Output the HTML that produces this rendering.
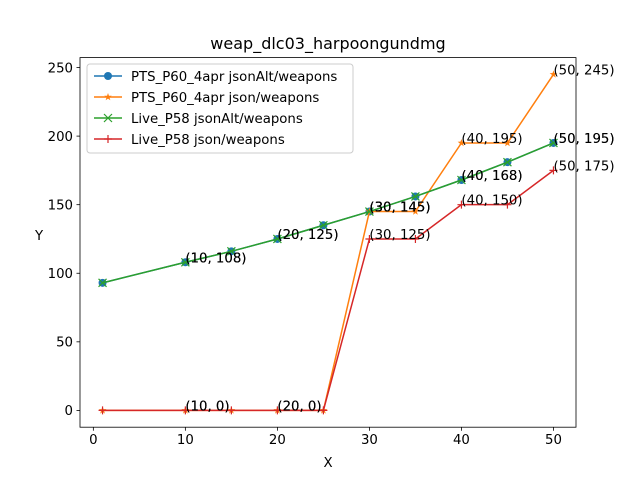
<!DOCTYPE html>
<html><head><meta charset="utf-8"><style>
body{margin:0;background:#fff}
svg{font-family:"DejaVu Sans","Liberation Sans",sans-serif}
</style></head><body>
<svg id="chart" width="640" height="480" xmlns="http://www.w3.org/2000/svg">
<rect width="640" height="480" fill="#fff"/>
<text x="328" y="49" text-anchor="middle" font-size="16">weap_dlc03_harpoongundmg</text>
<text x="328" y="467" text-anchor="middle" font-size="13.3">X</text>
<text x="39" y="240" text-anchor="middle" font-size="13.3">Y</text>
<g id="grid"></g><g id="series"></g><g id="ann"></g>
<rect x="80" y="57.6" width="496" height="369.6" fill="none" stroke="#000" stroke-width="0.8"/>
<g id="legend"></g>
</svg>
<script>
const xs = [1,10,15,20,25,30,35,40,45,50];
const ptsAlt = [93,108,116,125,135,145,156,168,181,195];
const ptsJson = [0,0,0,0,0,145,145,195,195,245];
const liveAlt = [93,108,116,125,135,145,156,168,181,195];
const liveJson = [0,0,0,0,0,125,125,150,150,175];
const seriesNames = ["PTS_P60_4apr jsonAlt/weapons","PTS_P60_4apr json/weapons","Live_P58 jsonAlt/weapons","Live_P58 json/weapons"];
const xTicks = [0,10,20,30,40,50];
const yTicks = [0,50,100,150,200,250];
const annX = [10,20,30,40,50];

const NS="http://www.w3.org/2000/svg";
const L=80,R=576,T=57.6,B=427.2,xmin=-1.45,xmax=52.45,ymin=-12.25,ymax=257.25;
const sx=v=>L+(v-xmin)/(xmax-xmin)*(R-L);
const sy=v=>B-(v-ymin)/(ymax-ymin)*(B-T);
function mk(tag,attrs,parent,text){const e=document.createElementNS(NS,tag);for(const k in attrs)e.setAttribute(k,attrs[k]);if(text!==undefined)e.textContent=text;parent.appendChild(e);return e;}
const grid=document.getElementById('grid');
xTicks.forEach(t=>{
  const l=mk('line',{x1:sx(t),x2:sx(t),y1:B,y2:B+3.5,stroke:'#000','stroke-width':0.8},grid);
  
  
  const tx=mk('text',{x:sx(t),y:B+17,'text-anchor':'middle','font-size':13.3},grid,String(t));
  
  
});
yTicks.forEach(t=>{
  const l=mk('line',{x1:L-3.5,x2:L,y1:sy(t),y2:sy(t),stroke:'#000','stroke-width':0.8},grid);
  
  
  const tx=mk('text',{x:L-7,y:sy(t)+4.8,'text-anchor':'end','font-size':13.3},grid,String(t));
  
  
});
const colors=['#1f77b4','#ff7f0e','#2ca02c','#d62728'];
const markers=['o','*','x','+'];
const data=[ptsAlt,ptsJson,liveAlt,liveJson];
function marker(g,type,x,y,c){
  if(type==='o') return mk('circle',{cx:x,cy:y,r:4,fill:c},g);
  if(type==='x') return mk('path',{d:`M${x-4},${y-4}L${x+4},${y+4}M${x-4},${y+4}L${x+4},${y-4}`,stroke:c,'stroke-width':1.2},g);
  if(type==='+') return mk('path',{d:`M${x-4},${y}L${x+4},${y}M${x},${y-4}L${x},${y+4}`,stroke:c,'stroke-width':1.2},g);
  let p='';for(let i=0;i<10;i++){const r=i%2?1.6:4,a=-Math.PI/2+i*Math.PI/5;p+=(i?'L':'M')+(x+r*Math.cos(a)).toFixed(2)+','+(y+r*Math.sin(a)).toFixed(2);}
  return mk('path',{d:p+'Z',fill:c},g);
}
const sg=document.getElementById('series'),ag=document.getElementById('ann');
data.forEach((ys,si)=>{
  const g=mk('g',{},sg);
  
  
  const d=xs.map((x,i)=>(i?'L':'M')+sx(x)+','+sy(ys[i])).join('');
  const p=mk('path',{d:d,fill:'none',stroke:colors[si],'stroke-width':1.5},g);
  
  
  xs.forEach((x,i)=>{
    const m=marker(g,markers[si],sx(x),sy(ys[i]),colors[si]);
    
    
    if(annX.includes(x)){
      const t=mk('text',{x:sx(x),y:sy(ys[i]),'font-size':13.3},ag,'('+x+', '+ys[i]+')');
      
      
    }
  });
});
const lg=document.getElementById('legend');
const box=mk('rect',{x:87,y:64,width:266,height:89,rx:3,fill:'#fff','fill-opacity':0.8,stroke:'#ccc'},lg);


seriesNames.forEach((n,i)=>{
  const y=76+i*21;
  const g=mk('g',{},lg);
  
  
  mk('line',{x1:94,x2:122,y1:y,y2:y,stroke:colors[i],'stroke-width':1.5},g);
  marker(g,markers[i],108,y,colors[i]);
  mk('text',{x:131,y:y+4.8,'font-size':13.3},g,n);
});
</script>
</body></html>
